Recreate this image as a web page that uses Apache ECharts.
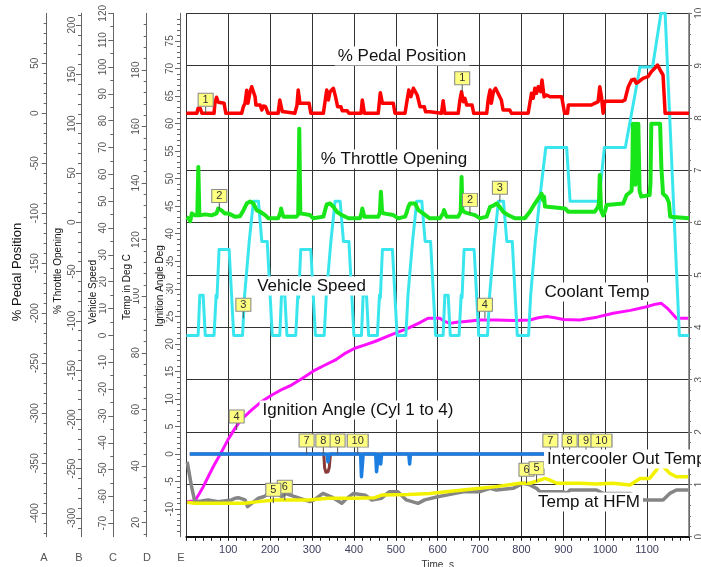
<!DOCTYPE html>
<html><head><meta charset="utf-8">
<script src="https://cdn.jsdelivr.net/npm/echarts@6/dist/echarts.min.js"></script>
<style>html,body{margin:0;padding:0;background:#fff}#c{width:701px;height:567px}</style>
</head><body><div id="c"></div>
<script>
// ---------- tick labels ----------
const timeLabels = [100,200,300,400,500,600,700,800,900,1000,1100];
const pedalLabels = [50,0,-50,-100,-150,-200,-250,-300,-350,-400];
const throttleLabels = [200,150,100,50,0,-50,-100,-150,-200,-250,-300];
const speedLabels = [120,110,100,90,80,70,60,50,40,30,20,10,0,-10,-20,-30,-40,-50,-60,-70];
const tempLabels = [180,160,140,120,100,80,60,40,20];
const ignitionLabels = [75,70,65,60,55,50,45,40,35,30,25,20,15,10,5,0,-5,-10];
const rightLabels = [0,1,2,3,4,5,6,7,8,9,10];

// ---------- series values [time s, value] ----------
const pedal = [
[0,0],[25,0],[28,5],[33,5],[37,0],
[66,0],[68,10],[72,16],[76,11],[80,10],[90,10],[94,0],
[132,0],[136,6.6],[140,10],[144,23],[147,10],[152,21.6],[156,26.6],[160,21.6],[164,16.6],[166,8.3],[176,8.3],[180,3.3],[184,7.3],[189,6.6],[195,0],
[219,0],[223,13.3],[227,13],[229,1.7],[231,0],
[259,0],[264,8],[267,23.3],[271,10],[293,10],[297,0],
[327,0],[331,11.6],[335,23.3],[339,13.3],[343,21.6],[351,25],[356,16.6],[361,6.6],[369,6.6],[372,2.6],[384,2.6],[388,0],
[417,0],[420,13.3],[425,0],
[458,0],[463,20.6],[468,10],[494,10],[498,0],
[522,0],[527,13.3],[531,23.3],[536,16.6],[542,25],[546,26.6],[551,18.3],[558,6.6],[568,6.6],[571,1.6],[581,1.6],[585,0],
[609,0],[613,12.6],[617,0],
[649,0],[653,13],[657,21.6],[661,11.6],[665,15],[669,8.3],[682,8.3],[686,0],
[717,0],[721,15],[725,23.3],[728,10],[733,21.6],[738,25],[744,20],[752,13.3],[756,3.3],[772,3.3],[776,0],
[816,0],[820,10],[824,20],[828,15],[832,25],[836,20],[840,26.6],[846,21.6],[849,33.3],[854,16.6],[860,18.3],[868,16.6],[896,16.6],[900,15],[903,0],[910,0],[912,8.3],[943,8.3],[947,6.6],[967,8.3],[975,10],[983,11.6],[987,26.6],[991,16.6],[995,0],[999,12],[1040,12],[1047,13.3],[1055,26.6],[1063,33.3],[1070,34],[1074,30],[1080,31.6],[1090,35],[1102,36.6],[1110,41.6],[1118,45],[1125,48.3],[1131,43.3],[1138,38.3],[1142,38.3],[1143,0],[1200,0]
];
const throttle = [
[0,5],[5,4],[9,1],[13,9],[20,7],[26,7],[28.5,56],[31,7],[45,8],[60,7],[72,9],[76,14],[80,12],[84,12],[92,9],[100,9],[116,5.7],[128,6],[136,12],[144,19],[148,17],[152,21],[156,20],[160,19],[168,12],[176,10.7],[188,7.3],[196,4],
[219,4],[224,9],[226,14],[229,9],[232,5.7],[263,5.7],[267,8],[269.5,95],[272,9],[295,7.3],[303,4],
[327,5.7],[331,12],[335,18],[339,16],[343,19],[347,17],[351,15.7],[359,10.7],[371,7.3],[387,4],
[414,4],[418,9],[420,14],[423,9],[425,5.7],[458,5.7],[462,10],[464.4,31],[467,12],[470,9],[494,7.3],[506,4],
[522,5.7],[526,10],[530,15.7],[534,19],[538,19],[546,19],[550,17],[554,12.4],[565,9],[581,4],
[605,4],[609,5.7],[613,9],[615,12.4],[619,8],[621,5.7],[649,5.7],[655,10.7],[657,46],[659,12.4],[665,10],[673,9],[689,7.3],[701,4],
[717,5.7],[725,15.7],[733,17],[741,19],[748,15.7],[756,10.7],[768,7.3],[784,4],
[808,4],[820,10.7],[832,19],[840,24],[844,22],[848,29],[852,22],[854,26],[856,16],[860,15.7],[904,14],[912,10.7],[975,10.7],[983,15.7],[985,20],[987,48],[990,12],[995,7],[1000,12],[1003,17.4],[1043,19],[1051,27.6],[1058,30],[1063,32],[1065,60],[1066,100],[1068,45],[1070,100],[1072,38],[1075,100],[1077,40],[1079,100],[1082,32],[1086,26],[1106,27.6],[1108,40],[1110,100],[1131,100],[1134,56],[1138,29],[1146,26],[1152,20],[1155,5.7],[1200,4]
];
const speed = [
[0,0],[28,0],[32,15],[40,15],[45,0],[66,0],[71,15],[73,14],[78,32],[102,32],[113,0],[134,0],[139,15],[141,15],[150,35],[152,35],[160,50],[172,50],[180,35],[193,35],[205,0],
[223,0],[227,15],[235,15],[240,0],[261,0],[266,15],[268,14],[273,32],[297,32],[308,0],[329,0],[334,15],[336,15],[345,35],[347,35],[355,50],[367,50],[375,35],[388,35],[400,0],
[418,0],[422,15],[430,15],[435,0],[456,0],[461,15],[463,14],[468,32],[492,32],[503,0],[524,0],[529,15],[531,15],[540,35],[542,35],[550,50],[562,50],[570,35],[583,35],[595,0],
[613,0],[617,15],[625,15],[630,0],[651,0],[656,15],[658,14],[663,32],[687,32],[698,0],[719,0],[724,15],[726,15],[735,35],[737,35],[745,50],[757,50],[765,35],[778,35],[790,0],
[817,0],[822,15],[824,15],[833,35],[835,35],[843,50],[845,50],[858,70],[908,70],[916,50],[985,50],[998,70],[1048,70],[1083,100],[1113,100],[1133,120],[1143,120],[1177,0],[1200,0]
];
const coolant = [
[2,27.4],[20,27.6],[30,30],[40,32.6],[52,36.2],[65,40],[84,45],[100,49.5],[116,53.3],[130,56.3],[156,59.8],[180,62.8],[204,65.1],[230,67.2],[251,68.6],[280,71.3],[307,73.9],[330,75.6],[355,77.4],[380,79.9],[402,81.6],[425,82.7],[450,84],[490,86.4],[530,88.7],[555,90.5],[577,92.2],[605,92.2],[615,91.2],[629,90.4],[645,90.8],[661,91],[700,91.6],[741,91.6],[780,91.4],[820,91.6],[840,92.4],[860,92.8],[880,92.4],[900,91.8],[939,91.6],[980,92.6],[1019,94],[1060,95],[1099,96.3],[1120,97.2],[1134,97.5],[1150,95.5],[1170,92.2],[1198,92.2]
];
const intercooler = [
[2,27.2],[20,26.8],[60,26.8],[108,26.8],[140,26.8],[172,27.4],[212,28],[291,28],[339,28.6],[400,28.6],[450,28.8],[466,29.7],[530,29.9],[581,30.3],[620,30.9],[661,31.5],[701,32.1],[740,32.7],[796,33.9],[820,33.9],[836,34.6],[856,35.6],[868,35],[884,33.9],[939,33.9],[979,33.6],[1019,33.9],[1059,33.3],[1083,35.6],[1106,35.6],[1122,38.5],[1130,40.9],[1138,39.8],[1154,37.4],[1170,36.2],[1198,36.2]
];
const hfm = [
[2,41.5],[6,38],[12,33],[20,27.4],[36,27.6],[52,28],[76,27.4],[108,28],[116,28.6],[124,28.8],[140,28],[146,25.6],[156,26.8],[172,28.6],[184,29.1],[200,30.3],[216,30.3],[228,29.1],[236,30.3],[248,29.7],[295,27.4],[305,28],[326,30.3],[346,29.1],[371,26.8],[379,28],[399,30.3],[427,29.7],[442,28],[466,28.6],[485,30.9],[505,30.9],[525,28],[553,26.8],[569,28],[600,29.1],[621,29.7],[661,30.9],[701,30.9],[725,32.1],[740,31.5],[780,32.1],[804,33.9],[820,33.3],[836,32.1],[844,30.9],[900,30.9],[908,30.3],[916,31.5],[979,31.5],[995,30.3],[1059,30.3],[1091,28],[1138,28],[1154,30.3],[1170,31.5],[1198,31.5]
];
const ignition = [
[8,0],[336,0],[338,-1.4],[341,0],[416,0],[418,-4.1],[420,-4.1],[422,0],[452,0],[454,-3.2],[456,-3.2],[458,0],[462,0],[464,-1.8],[466,0],[531,0],[533,-1.8],[535,0],[1200,0]
];
const ignitionCyl2 = [
[8,0],[328,0],[330,-2.5],[333,-3.3],[338,-3.2],[341,-2.5],[344,0],[1200,0]
];

// ---------- cursor markers [time, value on its series, label] ----------
const pedalMarkers = [[46,0,'1'],[658.5,21.6,'1']];
const throttleMarkers = [[78.5,13,'2'],[677,9,'2']];
const speedMarkers = [[136,6.4,'3'],[748.5,50,'3']];
const coolantMarkers = [[120,52.7,'4'],[712.7,92.2,'4']];
const intercoolerMarkers = [[207.5,26.8,'5'],[836,34.4,'5']];
const hfmMarkers = [[235,27.9,'6'],[812,33.9,'6']];
const ignitionMarkers = [[287,0,'7'],[327,0,'8'],[361,0,'9'],[409,0,'10'],[869,0,'7'],[915,0,'8'],[954,0,'9'],[991,0,'10']];

// ---------- chart ----------
const FONT = 'Liberation Sans, Arial, sans-serif';
const chart = echarts.init(document.getElementById('c'), null, {renderer:'canvas'});

function markers(list){
  const items = [];
  list.forEach(function(m){
    items.push({coord:[m[0],m[1]], symbol:'rect', symbolSize:[1,7], symbolOffset:[0,-3.5],
      itemStyle:{color:'#555'}, label:{show:false}});
    items.push({coord:[m[0],m[1]], name:m[2], symbol:'rect', symbolSize:[m[2].length>1?21:15,13], symbolOffset:[0,-13.5],
      itemStyle:{color:'#ffff80', borderColor:'#8a8a8a', borderWidth:1},
      label:{show:true, position:'inside', formatter:m[2], fontSize:11, fontFamily:FONT, color:'#333'}});
  });
  return {silent:true, animation:false, data:items};
}

function leftAxis(min, max, offset, labels, splitNumber, minorSplit, margin){
  return {
    type:'value', position:'left', min:min, max:max, offset:offset, splitNumber:splitNumber,
    axisLine:{show:true, onZero:false, lineStyle:{color:'#666', width:1}},
    axisTick:{show:true, length:5, customValues:labels, lineStyle:{color:'#666'}},
    minorTick:{show:true, splitNumber:minorSplit, length:3, lineStyle:{color:'#666'}},
    axisLabel:{show:true, customValues:labels, rotate:90, margin:margin, fontSize:10, fontFamily:FONT, color:'#555',
      formatter:function(v){ return String(v); }},
    splitLine:{show:false}
  };
}

function line(data, yIdx, color, width, mk){
  const s = {type:'line', data:data, xAxisIndex:0, yAxisIndex:yIdx, showSymbol:false, symbol:'none',
    lineStyle:{color:color, width:width, join:'round'}, itemStyle:{color:color}, silent:true, animation:false};
  if (mk) s.markPoint = markers(mk);
  return s;
}

function txt(x, y, text, size, opts){
  return Object.assign({type:'text', x:x, y:y, z:100, silent:true,
    style:{text:text, fontSize:size, fontFamily:FONT, fill:'#111', align:'center', verticalAlign:'middle',
      backgroundColor:'#fff', padding:[1,3]}}, opts || {});
}
function letter(x, y, text){
  return {type:'text', x:x, y:y, z:100, silent:true,
    style:{text:text, fontSize:11, fontFamily:FONT, fill:'#555', align:'center', verticalAlign:'middle'}};
}

const option = {
  backgroundColor:'#fff',
  animation:false,
  grid:{left:186.4, right:12, top:13.3, bottom:30.3, containLabel:false, outerBoundsMode:'none', show:false},
  xAxis:{
    type:'value', min:0, max:1200, interval:100,
    name:'Time  s', nameLocation:'middle', nameGap:20,
    nameTextStyle:{fontSize:10, fontFamily:FONT, color:'#333'},
    axisLine:{show:true, onZero:false, lineStyle:{color:'#111', width:2}},
    axisTick:{show:true, length:4, lineStyle:{color:'#111'}},
    minorTick:{show:true, splitNumber:5, length:4, lineStyle:{color:'#111'}},
    axisLabel:{customValues:timeLabels, margin:8, fontSize:11, fontFamily:FONT, color:'#3c3c5e',
      formatter:function(v){ return String(v); }},
    splitLine:{show:true, lineStyle:{color:'#333', width:1}}
  },
  yAxis:[
    leftAxis(-423.4, 100, 139.7, pedalLabels, 10, 5, 6),
    leftAxis(-319, 212, 105.4, throttleLabels, 10, 5, 4),
    leftAxis(-75, 120, 73.1, speedLabels, 20, 2, 5),
    leftAxis(15, 200, 39.7, tempLabels, 9, 5, 5),
    leftAxis(-15, 80, 6.4, ignitionLabels, 19, 5, 5),
    {
      type:'value', position:'right', min:0, max:10, interval:1,
      axisLine:{show:true, onZero:false, lineStyle:{color:'#777', width:1.5}},
      axisTick:{show:true, length:3, lineStyle:{color:'#777'}},
      minorTick:{show:true, splitNumber:5, length:2, lineStyle:{color:'#777'}},
      axisLabel:{customValues:rightLabels, rotate:90, margin:5, fontSize:10, fontFamily:FONT, color:'#555'},
      splitLine:{show:true, lineStyle:{color:'#333', width:1}}
    }
  ],
  series:[
    line(coolant, 3, '#ff10ff', 3, coolantMarkers),
    line(speed, 2, '#3ae6ee', 3, speedMarkers),
    line(hfm, 3, '#858585', 3.5, hfmMarkers),
    line(intercooler, 3, '#f2f200', 3.5, intercoolerMarkers),
    line(ignitionCyl2, 4, '#8b3a3a', 3, null),
    line(ignition, 4, '#1c7ee0', 3.5, ignitionMarkers),
    line(throttle, 1, '#19e619', 4, throttleMarkers),
    line(pedal, 0, '#ff0000', 3.5, pedalMarkers)
  ],
  graphic:[
    txt(17, 272, '% Pedal Position', 13, {rotation:Math.PI/2}),
    txt(58, 271, '% Throttle Opening', 10, {rotation:Math.PI/2}),
    txt(93, 292, 'Vehicle Speed', 10, {rotation:Math.PI/2}),
    txt(127, 287, 'Temp in Deg C', 10, {rotation:Math.PI/2}),
    txt(160, 286, 'Ignition Angle Deg', 10, {rotation:Math.PI/2}),
    letter(44, 558, 'A'), letter(79, 558, 'B'), letter(113, 558, 'C'), letter(147, 558, 'D'), letter(181, 558, 'E'),
    txt(402, 56, '% Pedal Position', 17),
    txt(394, 159, '% Throttle Opening', 17),
    txt(311.5, 286, 'Vehicle Speed', 17),
    txt(597, 292, 'Coolant Temp', 17),
    txt(358, 410, 'Ignition Angle (Cyl 1 to 4)', 17),
    {type:'text', x:544, y:459, z:100, silent:true,
      style:{text:'Intercooler Out Temp', fontSize:17, fontFamily:FONT, fill:'#111', align:'left', verticalAlign:'middle', backgroundColor:'#fff', padding:[1,3]}},
    txt(589, 502, 'Temp at HFM', 17)
  ]
};
chart.setOption(option);
</script></body></html>
